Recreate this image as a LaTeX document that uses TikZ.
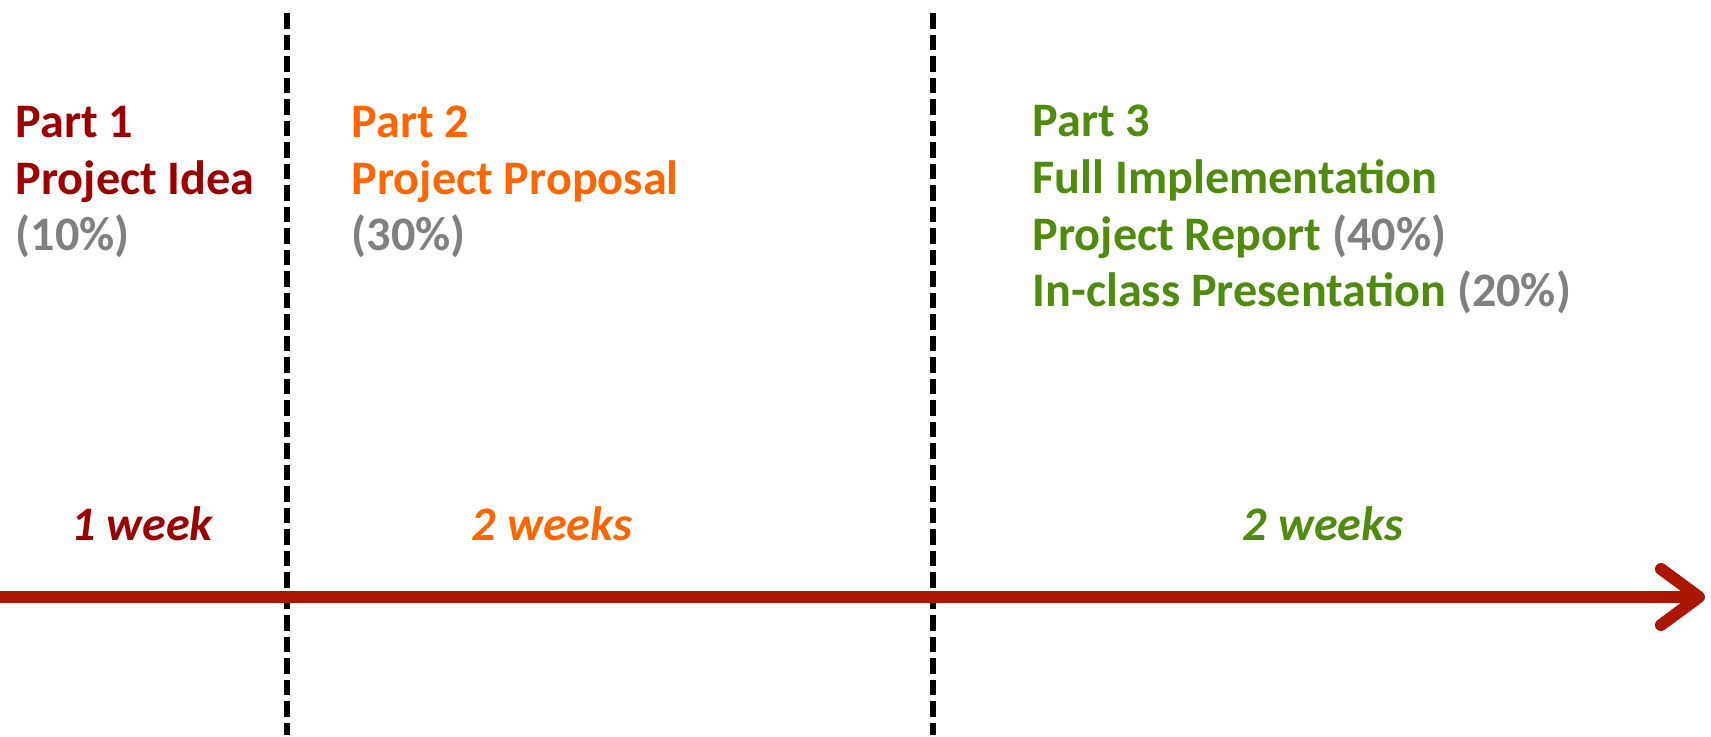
\documentclass[tikz,border=0pt]{standalone}
\usepackage{fontspec}
\setmainfont{Carlito}
\usetikzlibrary{arrows.meta}
\definecolor{partone}{RGB}{153,0,0}
\definecolor{parttwo}{RGB}{255,102,0}
\definecolor{partthree}{RGB}{80,138,14}
\definecolor{pgrey}{RGB}{128,128,128}
\definecolor{linered}{RGB}{170,22,0}
\begin{document}
\begin{tikzpicture}[x=0.01cm,y=-0.01cm,font=\bfseries\fontsize{13.7}{16.2}\selectfont]
\useasboundingbox (0,0) rectangle (1711,737);
% separators
\coordinate (s1top) at (287,13);
\coordinate (s1bot) at (287,735);
\coordinate (s2top) at (933,13);
\coordinate (s2bot) at (933,735);
\begin{scope}[dash pattern=on 0.155cm off 0.06cm,line width=0.06cm]
\draw(s1top) -- (s1bot);
\draw(s2top) -- (s2bot);
\end{scope}
% time line
\coordinate (tstart) at (0,597);
\coordinate (tend) at (1705,597);
\draw[-{Straight Barb[length=0.38cm,width=0.56cm,round]},line width=0.12cm,linered](tstart) -- (tend);
% parts (base = last line)
\begin{scope}[every node/.style={anchor=base west,align=left,inner sep=0}]
\node[text=partone] (p1) at (15,251) {Part 1\\Project Idea\\\textcolor{pgrey}{(10\%)}};
\node[text=parttwo] (p2) at (351,251) {Part 2\\Project Proposal\\\textcolor{pgrey}{(30\%)}};
\node[text=partthree] (p3) at (1032,307) {Part 3\\Full Implementation\\Project Report \textcolor{pgrey}{(40\%)}\\In-class Presentation \textcolor{pgrey}{(20\%)}};
\end{scope}
% durations
\begin{scope}[every node/.style={anchor=base,inner sep=0,font=\bfseries\itshape\fontsize{13.7}{16.2}\selectfont}]
\node[text=partone] (w1) at (142,541) {1 week};
\node[text=parttwo] (w2) at (552,541) {2 weeks};
\node[text=partthree] (w3) at (1323,541) {2 weeks};
\end{scope}
\end{tikzpicture}
\end{document}
